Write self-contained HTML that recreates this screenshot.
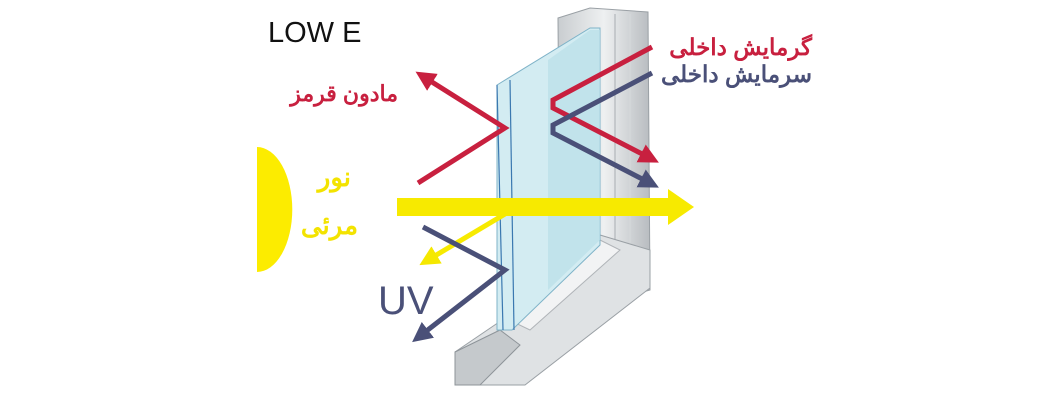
<!DOCTYPE html>
<html><head><meta charset="utf-8"><style>
html,body{margin:0;padding:0;background:#fff;}
svg{display:block}
text{font-family:"Liberation Sans","Noto Sans CJK SC",sans-serif;}
</style></head><body>
<svg width="1050" height="401" viewBox="0 0 1050 401" xmlns="http://www.w3.org/2000/svg">
<defs>
<marker id="ar" viewBox="0 0 10 10" refX="5" refY="5" markerWidth="4" markerHeight="4" orient="auto"><path d="M0,0L10,5L0,10z" fill="#c8203f"/></marker>
<marker id="ab" viewBox="0 0 10 10" refX="5" refY="5" markerWidth="4" markerHeight="4" orient="auto"><path d="M0,0L10,5L0,10z" fill="#4a5078"/></marker>
<marker id="ay" viewBox="0 0 10 10" refX="5" refY="5" markerWidth="4" markerHeight="4" orient="auto"><path d="M0,0L10,5L0,10z" fill="#f5e800"/></marker>
<linearGradient id="fr" x1="0" x2="1"><stop offset="0" stop-color="#c9cdd0"/><stop offset="0.5" stop-color="#eef0f1"/><stop offset="1" stop-color="#b8bcc0"/></linearGradient>
</defs>
<polygon points="558,18 590,8 648,12 650,290 615,300 560,300" fill="url(#fr)" stroke="#9aa0a5" stroke-width="1"/>
<line x1="615" y1="14" x2="615" y2="290" stroke="#a8adb2"/>
<line x1="630" y1="14" x2="630" y2="288" stroke="#d6d9db"/>
<polygon points="600,235 650,250 650,288 525,385 455,385 455,352 505,318" fill="#dfe2e4" stroke="#9aa0a5"/>
<polygon points="505,318 600,240 620,250 530,330" fill="#f2f3f4" stroke="#b0b4b8"/>
<polygon points="455,352 500,330 520,345 480,385 455,385" fill="#c5c9cc" stroke="#8e9499"/>
<polygon points="497,85 590,28 600,28 600,245 512,330 497,330" fill="#d3ecf2" stroke="#7fb3c8"/>
<polygon points="548,60 590,30 600,30 600,240 548,290" fill="#b9dfe8" opacity="0.7"/>
<line x1="497" y1="85" x2="503" y2="330" stroke="#3a78b0" stroke-width="1.2"/>
<line x1="510" y1="80" x2="514" y2="330" stroke="#3a78b0" stroke-width="1.2"/>
<path d="M257,147 A35,62 0 0 1 257,272 Z" fill="#fcec00"/>
<line x1="397" y1="207" x2="672" y2="207" stroke="#f7ea00" stroke-width="18"/>
<polygon points="668,189 694,207 668,225" fill="#f7ea00"/>
<line x1="505" y1="214" x2="428" y2="260" stroke="#f7ea00" stroke-width="5" marker-end="url(#ay)"/>
<polyline points="418,183 505,128 424,77" fill="none" stroke="#c8203f" stroke-width="5" marker-end="url(#ar)"/>
<polyline points="423,227 505,270 420,336" fill="none" stroke="#4a5078" stroke-width="5" marker-end="url(#ab)"/>
<polyline points="652,47 553,100 553,108 650,158" fill="none" stroke="#c8203f" stroke-width="5" marker-end="url(#ar)"/>
<polyline points="652,73 553,125 553,133 650,183" fill="none" stroke="#4a5078" stroke-width="5" marker-end="url(#ab)"/>
<text x="268" y="42" font-size="29" fill="#111">LOW E</text>
<text x="398" y="101" font-size="22" font-weight="bold" fill="#c8203f" text-anchor="start" direction="rtl">مادون قرمز</text>
<text x="812" y="55" font-size="23" font-weight="bold" fill="#c8203f" text-anchor="start" direction="rtl">گرمایش داخلی</text>
<text x="812" y="82" font-size="23" font-weight="bold" fill="#4a5078" text-anchor="start" direction="rtl">سرمایش داخلی</text>
<text x="351" y="186" font-size="26" font-weight="bold" fill="#f3e300" text-anchor="start" direction="rtl">نور</text>
<text x="358" y="234" font-size="26" font-weight="bold" fill="#f3e300" text-anchor="start" direction="rtl">مرئی</text>
<text x="378" y="314" font-size="40" fill="#4a5078">UV</text>
</svg>
</body></html>
